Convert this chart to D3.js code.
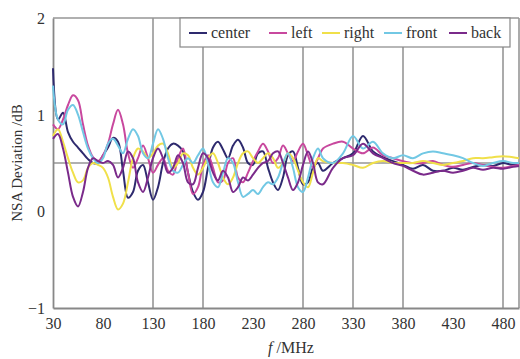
<!DOCTYPE html>
<html>
<head>
<meta charset="utf-8">
<script src="https://cdn.jsdelivr.net/npm/d3@7"></script>
<style>
  body { margin: 0; background: #fff; }
  text { font-family: "Liberation Serif", "DejaVu Serif", serif; fill: #333; }
</style>
</head>
<body>
<svg id="chart" width="520" height="359"></svg>
<script>
// frequency grid (MHz)
let freq = [30,35,40,45,50,55,60,65,70,75,80,85,90,95,100,105,110,115,120,125,130,135,140,145,150,
            155,160,165,170,175,180,185,190,195,200,205,210,215,220,225,230,235,240,245,250,255,260,
            265,270,275,280,285,290,295,300,310,320,330,340,350,360,370,380,390,400,410,420,430,440,
            450,460,470,480,490,496];

let center = [1.48,0.95,1.02,0.82,0.72,0.66,0.6,0.54,0.5,0.5,0.58,0.66,0.76,0.72,0.42,0.14,0.2,0.42,0.48,0.3,0.12,
              0.25,0.5,0.65,0.7,0.68,0.62,0.4,0.2,0.12,0.2,0.45,0.66,0.72,0.64,0.55,0.68,0.74,0.66,0.5,0.48,
              0.6,0.62,0.45,0.3,0.22,0.35,0.58,0.62,0.45,0.28,0.3,0.45,0.5,0.42,
              0.5,0.55,0.6,0.78,0.62,0.56,0.52,0.48,0.44,0.48,0.42,0.42,0.45,0.43,0.46,0.48,0.47,0.5,0.48,0.5];

let left = [0.9,0.85,0.95,1.1,1.2,1.15,0.9,0.68,0.56,0.52,0.58,0.7,0.9,1.05,0.9,0.6,0.45,0.55,0.68,0.55,0.4,
            0.48,0.55,0.42,0.38,0.55,0.65,0.4,0.18,0.25,0.48,0.58,0.45,0.3,0.32,0.5,0.55,0.35,0.3,0.4,0.52,
            0.62,0.7,0.62,0.5,0.55,0.68,0.6,0.52,0.62,0.7,0.58,0.45,0.55,0.65,
            0.7,0.72,0.65,0.6,0.66,0.58,0.55,0.52,0.5,0.5,0.52,0.48,0.46,0.48,0.5,0.48,0.46,0.45,0.47,0.48];

let right = [0.78,0.85,0.72,0.55,0.4,0.3,0.32,0.45,0.5,0.48,0.45,0.35,0.15,0.02,0.08,0.3,0.55,0.65,0.62,0.55,0.6,
             0.68,0.7,0.6,0.45,0.5,0.6,0.58,0.45,0.38,0.45,0.55,0.6,0.5,0.35,0.28,0.35,0.5,0.6,0.62,0.55,
             0.5,0.55,0.6,0.55,0.45,0.5,0.6,0.55,0.42,0.3,0.25,0.4,0.55,0.52,
             0.5,0.5,0.48,0.45,0.5,0.52,0.5,0.5,0.5,0.52,0.5,0.48,0.5,0.52,0.55,0.55,0.56,0.57,0.56,0.55];

let front = [1.3,0.95,0.9,1.05,1.1,1.0,0.82,0.65,0.55,0.5,0.55,0.7,0.75,0.68,0.6,0.75,0.85,0.78,0.6,0.55,0.7,
             0.85,0.75,0.55,0.42,0.4,0.48,0.55,0.5,0.58,0.65,0.5,0.3,0.25,0.4,0.55,0.5,0.3,0.15,0.18,0.22,
             0.18,0.25,0.3,0.28,0.35,0.5,0.6,0.45,0.25,0.2,0.35,0.55,0.65,0.55,
             0.5,0.6,0.78,0.65,0.72,0.6,0.55,0.58,0.55,0.6,0.62,0.6,0.58,0.55,0.5,0.47,0.5,0.52,0.5,0.5];

let back = [0.75,0.8,0.65,0.4,0.15,0.05,0.2,0.45,0.55,0.52,0.5,0.52,0.48,0.35,0.45,0.62,0.55,0.3,0.2,0.35,0.55,
            0.65,0.55,0.4,0.45,0.58,0.5,0.3,0.28,0.45,0.6,0.55,0.4,0.32,0.42,0.35,0.2,0.25,0.35,0.32,0.38,
            0.45,0.5,0.52,0.6,0.62,0.5,0.35,0.22,0.3,0.48,0.62,0.5,0.3,0.28,
            0.45,0.55,0.58,0.7,0.6,0.55,0.5,0.47,0.42,0.38,0.4,0.42,0.4,0.42,0.45,0.43,0.45,0.44,0.46,0.47];

let seriesNames = ["center", "left", "right", "front", "back"];
let seriesColors = ["#2e2a6e", "#c8489e", "#f0e04a", "#72c8e4", "#7a2a8a"];
let seriesValues = [center, left, right, front, back];

let xTicks = [30,80,130,180,230,280,330,380,430,480];
let yTicks = [-1,0,1,2];
let xGrid = [130,180,280,330,380,480];
let yRefLine = 0.5;

const svg = d3.select("#chart");
const margin = {top: 18, right: 1, bottom: 51, left: 53};
const width = 520 - margin.left - margin.right;
const height = 359 - margin.top - margin.bottom;

const g = svg.append("g").attr("transform", `translate(${margin.left},${margin.top})`);

let x = d3.scaleLinear().domain([30, 496]).range([0, width]);
let y = d3.scaleLinear().domain([-1, 2]).range([height, 0]);

// grid lines
g.selectAll(".vgrid").data(xGrid).enter().append("line")
    .attr("x1", d => x(d)).attr("x2", d => x(d))
    .attr("y1", 0).attr("y2", height)
    .attr("stroke", "#969696").attr("stroke-width", 1.6);

g.append("line")
    .attr("x1", 0).attr("x2", width)
    .attr("y1", y(yRefLine)).attr("y2", y(yRefLine))
    .attr("stroke", "#969696").attr("stroke-width", 1.6);

// frame
g.append("line").attr("x1", 0).attr("x2", width).attr("y1", 0).attr("y2", 0)
    .attr("stroke", "#969696").attr("stroke-width", 1.6);
g.append("line").attr("x1", width).attr("x2", width).attr("y1", 0).attr("y2", height)
    .attr("stroke", "#969696").attr("stroke-width", 1.6);

// axes
let xAxis = g.append("g").attr("transform", `translate(0,${height})`)
    .call(d3.axisBottom(x).tickValues(xTicks).tickSize(0).tickPadding(10));
let yAxis = g.append("g")
    .call(d3.axisLeft(y).tickValues(yTicks).tickSize(0).tickPadding(8).tickFormat(d => d < 0 ? "\u2212" + Math.abs(d) : d));

[xAxis, yAxis].forEach(a => {
    a.select(".domain").attr("stroke", "#888").attr("stroke-width", 1.8);
    a.selectAll("text").style("font-size", "16px").style("font-family", "Liberation Serif, serif").attr("fill", "#333");
});
yAxis.selectAll("text").attr("dy", "0.35em");

// lines
let line = d3.line()
    .x((d, i) => x(freq[i]))
    .y(d => y(d))
    .curve(d3.curveCatmullRom.alpha(0.5));

seriesValues.forEach((vals, i) => {
    g.append("path")
        .datum(vals)
        .attr("fill", "none")
        .attr("stroke", seriesColors[i])
        .attr("stroke-width", 2)
        .attr("d", line);
});

// axis titles
svg.append("text")
    .attr("transform", `translate(22, 163) rotate(-90)`)
    .style("text-anchor", "middle")
    .style("font-size", "15px")
    .text("NSA Deviation /dB");

let xTitle = svg.append("text")
    .attr("x", 291).attr("y", 353)
    .style("text-anchor", "middle")
    .style("font-size", "16px");
xTitle.append("tspan").style("font-style", "italic").text("f");
xTitle.append("tspan").text(" /MHz");

// legend
let legend = svg.append("g");
legend.append("rect")
    .attr("x", 180).attr("y", 18).attr("width", 330).attr("height", 29)
    .attr("fill", "#fff").attr("stroke", "#888").attr("stroke-width", 1.2);

let legendX = [189, 269, 322, 384, 449];
seriesNames.forEach((name, i) => {
    legend.append("line")
        .attr("x1", legendX[i]).attr("x2", legendX[i] + 18)
        .attr("y1", 33).attr("y2", 33)
        .attr("stroke", seriesColors[i]).attr("stroke-width", 2);
    legend.append("text")
        .attr("x", legendX[i] + 22).attr("y", 38)
        .style("font-size", "16px")
        .text(name);
});
</script>
</body>
</html>
